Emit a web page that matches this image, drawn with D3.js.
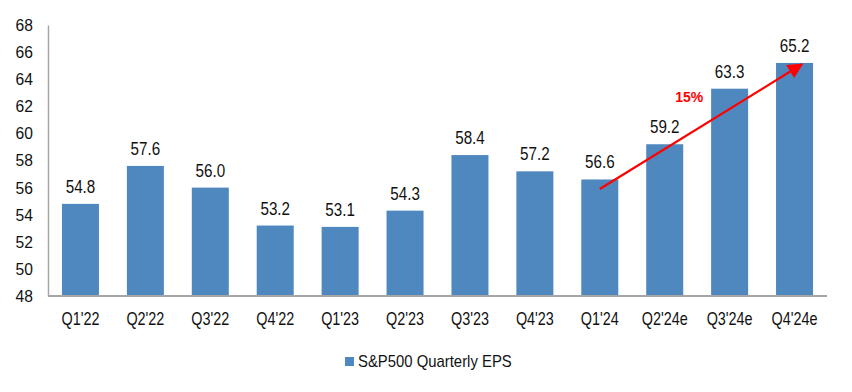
<!DOCTYPE html>
<html>
<head>
<meta charset="utf-8">
<script src="https://cdn.jsdelivr.net/npm/d3@7"></script>
<style>
    body { margin: 0; background: #fff; }
    text { font-family: "Liberation Sans Narrow", "Arial Narrow", "Liberation Sans", Arial, sans-serif; }
</style>
</head>
<body>
<svg></svg>
<script>
// chart data
var quarters = ["Q1'22", "Q2'22", "Q3'22", "Q4'22", "Q1'23", "Q2'23", "Q3'23", "Q4'23", "Q1'24", "Q2'24e", "Q3'24e", "Q4'24e"];
var eps = [54.8, 57.6, 56.0, 53.2, 53.1, 54.3, 58.4, 57.2, 56.6, 59.2, 63.3, 65.2];
var yTicks = [48, 50, 52, 54, 56, 58, 60, 62, 64, 66, 68];
var seriesName = "S&P500 Quarterly EPS";
var growthLabel = "15%";
var arrowFrom = ["Q1'24", 55.9];
var arrowTo = ["Q4'24e", 65.1];

var width = 852, height = 392;
var margin = {top: 25, right: 25, bottom: 96, left: 48};
var barColor = '#4f88be';

var svg = d3.select('svg')
    .attr('width', width)
    .attr('height', height);

var x = d3.scaleBand()
    .domain(quarters)
    .range([margin.left, width - margin.right])
    .paddingInner(0.43)
    .paddingOuter(0.215);

var y = d3.scaleLinear()
    .domain([48, 68])
    .range([height - margin.bottom, margin.top]);

// narrow text: the original uses a condensed face
var condense = function(sel, k) {
    sel.each(function() {
        var t = d3.select(this);
        var tx = +t.attr('x') || 0;
        var ty = +t.attr('y') || 0;
        t.attr('x', 0).attr('y', 0)
            .attr('transform', 'translate(' + tx + ',' + ty + ') scale(' + k + ',1)');
    });
};

// bars
svg.append('g')
    .selectAll('rect')
    .data(eps)
    .enter()
    .append('rect')
    .attr('x', function (d, i) { return x(quarters[i]) })
    .attr('y', function (d) { return y(d) })
    .attr('width', x.bandwidth())
    .attr('height', function (d) { return y(48) - y(d) })
    .style('fill', barColor);

// value labels
svg.append('g')
    .selectAll('text')
    .data(eps)
    .enter()
    .append('text')
    .attr('x', function (d, i) { return x(quarters[i]) + x.bandwidth() / 2 })
    .attr('y', function (d) { return y(d) - 11 })
    .attr('text-anchor', 'middle')
    .attr('font-size', '19px')
    .attr('fill', '#111')
    .text(function (d) { return d.toFixed(1) })
    .call(condense, 0.8);

// y axis
var yAxis = svg.append('g')
    .attr('transform', 'translate(' + margin.left + ',0)')
    .call(d3.axisLeft(y).tickValues(yTicks).tickSize(0).tickPadding(15));
yAxis.select('.domain').attr('stroke', '#a6a6a6').attr('stroke-width', 1.5);
yAxis.selectAll('text').attr('font-size', '17px').attr('fill', '#111').attr('font-family', null)
    .call(condense, 0.92);

// x axis
var xAxis = svg.append('g')
    .attr('transform', 'translate(0,' + y(48) + ')')
    .call(d3.axisBottom(x).tickSize(0).tickPadding(16));
xAxis.select('.domain').attr('stroke', '#a6a6a6').attr('stroke-width', 2)
    .attr('d', 'M' + margin.left + ',0H' + (width - margin.right));
xAxis.selectAll('text').attr('font-size', '18px').attr('fill', '#111').attr('font-family', null)
    .call(condense, 0.8);

// growth arrow
svg.append('defs').append('marker')
    .attr('id', 'arrowhead')
    .attr('viewBox', '0 0 10 10')
    .attr('refX', 9)
    .attr('refY', 5)
    .attr('markerWidth', 8)
    .attr('markerHeight', 7)
    .attr('markerUnits', 'strokeWidth')
    .attr('orient', 'auto')
    .append('path')
    .attr('d', 'M0,0L10,5L0,10Z')
    .style('fill', '#ff0000');

svg.append('line')
    .attr('x1', x(arrowFrom[0]) + x.bandwidth() / 2)
    .attr('y1', y(arrowFrom[1]))
    .attr('x2', x(arrowTo[0]) + x.bandwidth() * 0.7)
    .attr('y2', y(arrowTo[1]))
    .attr('stroke', '#ff0000')
    .attr('stroke-width', 2.2)
    .attr('marker-end', 'url(#arrowhead)');

svg.append('text')
    .attr('x', (x("Q2'24e") + x("Q3'24e") + x.bandwidth()) / 2 - 8)
    .attr('y', y(62.3))
    .attr('text-anchor', 'middle')
    .attr('font-size', '14px')
    .attr('font-weight', 'bold')
    .attr('fill', '#ff0000')
    .style('font-family', '"Liberation Sans", Arial, sans-serif')
    .text(growthLabel);

// legend
var legend = svg.append('g')
    .attr('transform', 'translate(345,357)');
legend.append('rect')
    .attr('width', 9)
    .attr('height', 9)
    .style('fill', barColor);
legend.append('text')
    .attr('x', 13)
    .attr('y', 10)
    .attr('font-size', '16px')
    .attr('fill', '#111')
    .text(seriesName)
    .call(condense, 0.93);
</script>
</body>
</html>
